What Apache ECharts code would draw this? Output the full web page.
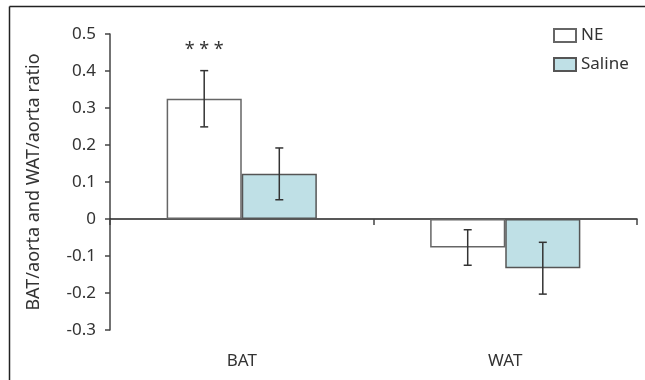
<!DOCTYPE html>
<html>
<head>
<meta charset="utf-8">
<script src="https://cdn.jsdelivr.net/npm/echarts@6/dist/echarts.min.js"></script>
<style>html,body{margin:0;padding:0;background:#fff}#c{width:645px;height:380px}</style>
</head>
<body>
<div id="c"></div>
<script>
var categories = ['BAT', 'WAT'];
var seriesNames = ['NE', 'Saline'];
var neValues = [0.325, -0.077];
var neErrors = [0.076, 0.048];
var salineValues = [0.122, -0.133];
var salineErrors = [0.07, 0.07];
var sigLabels = ['* * *', ''];
var yTicks = [-0.3, 0.5, 0.1];

var FONT = 'Noto Sans';
var GAP = 0.43;
var chart = echarts.init(document.getElementById('c'));

function errSeries(vals, errs, side, labels) {
  return {
    type: 'custom',
    xAxisIndex: 0,
    z: 5,
    silent: true,
    data: vals.map(function (v, i) { return [i, v, errs[i]]; }),
    renderItem: function (params, api) {
      var i = api.value(0), v = api.value(1), e = api.value(2);
      var band = api.size([1, 0])[0];
      var bw = band * (1 - GAP) / 2;
      var c = api.coord([i, v]);
      var x = c[0] + side * bw / 2;
      var top = api.coord([i, v + e])[1];
      var bot = api.coord([i, v - e])[1];
      var st = { stroke: '#333', lineWidth: 1.5 };
      var ch = [
        { type: 'line', shape: { x1: x, y1: top, x2: x, y2: bot }, style: st },
        { type: 'line', shape: { x1: x - 4, y1: top, x2: x + 4, y2: top }, style: st },
        { type: 'line', shape: { x1: x - 4, y1: bot, x2: x + 4, y2: bot }, style: st }
      ];
      if (labels && labels[i]) {
        ch.push({ type: 'text', x: x, y: top - 21, style: { text: labels[i], fill: '#333', font: '18px ' + FONT, align: 'center', verticalAlign: 'middle' } });
      }
      return { type: 'group', children: ch };
    }
  };
}

chart.setOption({
  animation: false,
  textStyle: { fontFamily: FONT },
  graphic: [
    { type: 'line', shape: { x1: 9.5, y1: 6.5, x2: 645, y2: 6.5 }, style: { stroke: '#222', lineWidth: 1.5 } },
    { type: 'line', shape: { x1: 9.5, y1: 6.5, x2: 9.5, y2: 380 }, style: { stroke: '#222', lineWidth: 1.5 } }
  ],
  legend: {
    orient: 'vertical', left: 548, top: 22, itemWidth: 22, itemHeight: 13, itemGap: 12, itemTextGap: 12,
    icon: 'rect', textStyle: { fontSize: 17, color: '#333', fontFamily: FONT },
    data: seriesNames
  },
  grid: { left: 110, right: 8, top: 34, bottom: 50 },
  xAxis: [
    {
      type: 'category', data: categories,
      axisLine: { onZero: true, lineStyle: { color: '#222', width: 1.5 } },
      axisTick: { show: true, length: 6, lineStyle: { color: '#444', width: 1.5 } },
      axisLabel: { show: false }
    },
    {
      type: 'category', data: categories, position: 'bottom',
      axisLine: { show: false }, axisTick: { show: false },
      axisLabel: { color: '#333', fontSize: 17, margin: 23, fontFamily: FONT }
    }
  ],
  yAxis: {
    type: 'value', min: yTicks[0], max: yTicks[1], interval: yTicks[2],
    name: 'BAT/aorta and WAT/aorta ratio', nameLocation: 'middle', nameGap: 67,
    nameTextStyle: { fontSize: 18, color: '#333', fontFamily: FONT },
    axisLine: { show: true, lineStyle: { color: '#444', width: 1.5 } },
    axisTick: { show: true, length: 5, lineStyle: { color: '#444', width: 1.5 } },
    splitLine: { show: false },
    axisLabel: { color: '#333', fontSize: 17, margin: 14, fontFamily: FONT,
      formatter: function (v) { return Math.abs(v) < 1e-9 ? '0' : v.toFixed(1); } }
  },
  series: [
    { name: seriesNames[0], type: 'bar', data: neValues, barGap: '0%', barCategoryGap: (GAP * 100) + '%',
      itemStyle: { color: '#ffffff', borderColor: '#666', borderWidth: 1.5 } },
    { name: seriesNames[1], type: 'bar', data: salineValues, barGap: '0%', barCategoryGap: (GAP * 100) + '%',
      itemStyle: { color: '#bfe0e6', borderColor: '#555', borderWidth: 1.5 } },
    errSeries(neValues, neErrors, -1, sigLabels),
    errSeries(salineValues, salineErrors, 1, null)
  ]
});
</script>
</body>
</html>
